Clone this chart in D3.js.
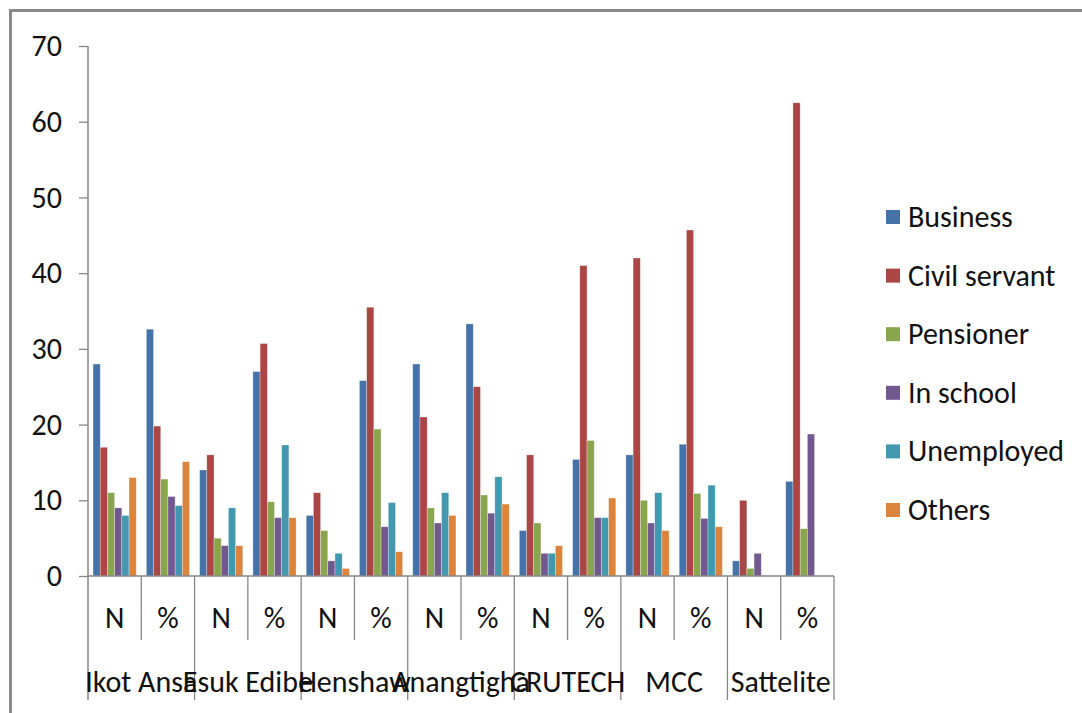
<!DOCTYPE html>
<html>
<head>
<meta charset="utf-8">
<script src="https://cdn.jsdelivr.net/npm/d3@7"></script>
<style>
  body { margin: 0; background: #fff; }
  text { font-family: "Carlito", "Liberation Sans", Arial, sans-serif; fill: #111; }
</style>
</head>
<body>
<div id="chart"></div>
<script>
// groups and their sub-columns
var groups = ["Ikot Ansa", "Esuk Edibe", "Henshaw", "Anangtigha", "CRUTECH", "MCC", "Sattelite"];
var subLabels = ["N", "%"];
var seriesNames = ["Business", "Civil servant", "Pensioner", "In school", "Unemployed", "Others"];
var yTicks = [0, 10, 20, 30, 40, 50, 60, 70];

// one value per column: Ikot N, Ikot %, Esuk N, Esuk %, ...
var business   = [28, 32.6, 14, 27, 8, 25.8, 28, 33.3, 6, 15.4, 16, 17.4, 2, 12.5];
var civil      = [17, 19.8, 16, 30.7, 11, 35.5, 21, 25, 16, 41, 42, 45.7, 10, 62.5];
var pensioner  = [11, 12.8, 5, 9.8, 6, 19.4, 9, 10.7, 7, 17.9, 10, 10.9, 1, 6.25];
var inSchool   = [9, 10.5, 4, 7.7, 2, 6.5, 7, 8.3, 3, 7.7, 7, 7.6, 3, 18.75];
var unemployed = [8, 9.3, 9, 17.3, 3, 9.7, 11, 13.1, 3, 7.7, 11, 12, 0, 0];
var others     = [13, 15.1, 4, 7.7, 1, 3.2, 8, 9.5, 4, 10.3, 6, 6.5, 0, 0];

var seriesValues = [business, civil, pensioner, inSchool, unemployed, others];
var colors = ["#4572A7", "#AA4643", "#89A54E", "#71588F", "#4198AF", "#DB843D"];

var width = 1082, height = 713;
var axisColor = "#868686";
var fontSize = "30px";

var svg = d3.select("#chart").append("svg")
    .attr("width", width)
    .attr("height", height);

// outer frame (only top and left edges fall inside the picture)
svg.append("rect")
    .attr("x", 10.5).attr("y", 10.5)
    .attr("width", width + 20).attr("height", height + 20)
    .attr("fill", "none")
    .attr("stroke", "#8a8a8a")
    .attr("stroke-width", 3);

// build the column keys
var columns = [];
groups.forEach(function(g) {
    subLabels.forEach(function(s) {
        columns.push({ group: g, sub: s, key: g + "|" + s });
    });
});

var x = d3.scaleBand()
    .domain(columns.map(function(d) { return d.key; }))
    .range([88, 834]);

var x1 = d3.scaleBand()
    .domain(seriesNames)
    .range([0, x.bandwidth()])
    .paddingOuter(0.7);

var y = d3.scaleLinear()
    .domain([0, 70])
    .range([576, 46]);

// y axis
var yAxis = svg.append("g")
    .attr("transform", "translate(88,0)")
    .call(d3.axisLeft(y).tickValues(yTicks).tickSize(9).tickPadding(17));
yAxis.select(".domain").remove();
yAxis.selectAll("line").attr("stroke", axisColor).attr("stroke-width", 1.3);
yAxis.selectAll("text")
    .style("font-size", fontSize)
    .style("font-family", "Carlito, 'Liberation Sans', Arial, sans-serif")
    .attr("fill", "#111");

svg.append("line")
    .attr("x1", 88).attr("x2", 88)
    .attr("y1", y(70)).attr("y2", 700)
    .attr("stroke", axisColor).attr("stroke-width", 1.5);

// bars
seriesNames.forEach(function(name, si) {
    svg.append("g")
        .selectAll("rect")
        .data(columns)
        .enter().append("rect")
        .attr("x", function(d) { return x(d.key) + x1(name); })
        .attr("y", function(d, i) { return y(seriesValues[si][i]); })
        .attr("width", x1.bandwidth())
        .attr("height", function(d, i) { return y(0) - y(seriesValues[si][i]); })
        .attr("fill", colors[si])
        .attr("stroke", "#fff")
        .attr("stroke-opacity", 0.5)
        .attr("stroke-width", 0.6);
});

// category axis
svg.append("line")
    .attr("x1", 88).attr("x2", 834)
    .attr("y1", 576).attr("y2", 576)
    .attr("stroke", axisColor).attr("stroke-width", 1.5);

svg.append("g")
    .selectAll("line")
    .data(columns)
    .enter().append("line")
    .attr("x1", function(d) { return x(d.key) + x.bandwidth(); })
    .attr("x2", function(d) { return x(d.key) + x.bandwidth(); })
    .attr("y1", 576)
    .attr("y2", function(d) { return d.sub === "N" ? 640 : 700; })
    .attr("stroke", axisColor).attr("stroke-width", 1.3);

svg.append("g")
    .selectAll("text")
    .data(columns)
    .enter().append("text")
    .attr("x", function(d) { return x(d.key) + x.bandwidth() / 2; })
    .attr("y", 628)
    .attr("text-anchor", "middle")
    .style("font-size", fontSize)
    .text(function(d) { return d.sub; });

svg.append("g")
    .selectAll("text")
    .data(groups)
    .enter().append("text")
    .attr("x", function(g) { return x(g + "|N") + x.bandwidth(); })
    .attr("y", 692)
    .attr("text-anchor", "middle")
    .style("font-size", fontSize)
    .text(function(g) { return g; });

// legend
var legend = svg.append("g")
    .selectAll("g")
    .data(seriesNames)
    .enter().append("g")
    .attr("transform", function(d, i) { return "translate(886," + (217 + i * 58.6) + ")"; });

legend.append("rect")
    .attr("x", 0).attr("y", -7)
    .attr("width", 14).attr("height", 14)
    .attr("fill", function(d, i) { return colors[i]; });

legend.append("text")
    .attr("x", 22)
    .attr("y", 10)
    .style("font-size", fontSize)
    .text(function(d) { return d; });
</script>
</body>
</html>
